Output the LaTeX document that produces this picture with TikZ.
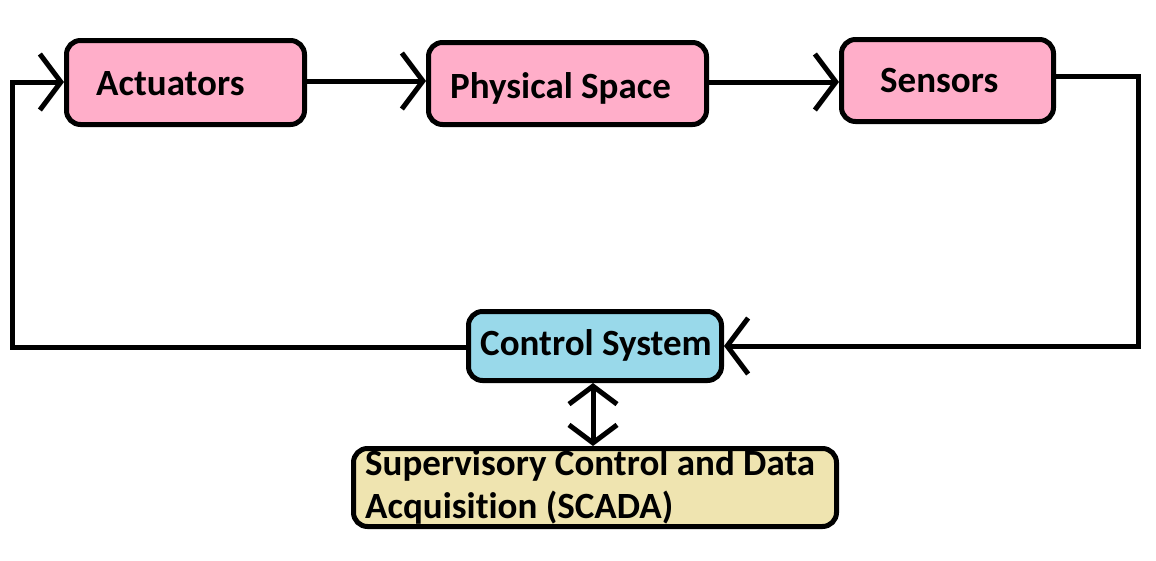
\documentclass[tikz,border=0pt]{standalone}
\usepackage{fontspec}
\setmainfont{Carlito}[Ligatures={NoCommon}]
\usetikzlibrary{arrows.meta}
\definecolor{pinkbox}{HTML}{FFAEC9}
\definecolor{bluebox}{HTML}{99D9EA}
\definecolor{beigebox}{HTML}{EFE4B0}
\tikzset{
  blk/.style={draw=black, line width=5pt, rounded corners=14pt, inner sep=0pt},
  lbl/.style={inner sep=0pt, anchor=base west, font=\fontsize{37}{43}\selectfont\bfseries},
  conn/.style={line width=5pt, line cap=round, line join=miter},
  barb/.tip={Straight Barb[length=21pt, width=56pt, line width=5pt]},
  barbs/.tip={Straight Barb[length=18pt, width=48pt, line width=5pt]}
}
\begin{document}
\begin{tikzpicture}[x=1pt, y=-1pt]
\useasboundingbox (0,0) rectangle (1156,560);
% boxes
\node[blk, fill=pinkbox, minimum width=238pt, minimum height=84pt] (act) at (185.5,82.5) {};
\node[blk, fill=pinkbox, minimum width=278pt, minimum height=82pt] (phys) at (567.5,83.5) {};
\node[blk, fill=pinkbox, minimum width=212pt, minimum height=82pt] (sens) at (947.5,80.5) {};
\node[blk, fill=bluebox, minimum width=253pt, minimum height=69pt] (ctrl) at (595,346) {};
\node[blk, fill=beigebox, minimum width=483pt, minimum height=78pt] (scada) at (595,487.5) {};
% labels
\node[lbl] (tact) at (96,95) {Actuators};
\node[lbl] (tphys) at (450,98) {Physical Space};
\node[lbl] (tsens) at (880,92) {Sensors};
\node[lbl] (tctrl) at (480,355) {Control System};
\node[lbl] (tsc1) at (365,475) {Supervisory Control and Data};
\node[lbl] (tsc2) at (365,518) {Acquisition (SCADA)};
% corner coordinates
\coordinate (lb) at (12,347);
\coordinate (lt) at (12,82);
\coordinate (rt) at (1138,76);
\coordinate (rb) at (1138,346);
% connectors
\draw[conn, -barb] (ctrl.west |- lb) -- (lb) -- (lt) -- (lt -| act.west);
\draw[conn, -barb] ([yshift=1.5pt]act.east) -- ([yshift=1.5pt]act.east -| phys.west);
\draw[conn, -barb] (phys.east |- 0,82) -- (sens.west |- 0,82);
\draw[conn, -barb] (sens.east |- rt) -- (rt) -- (rb) -- (rb -| ctrl.east);
\draw[conn, barbs-barbs] ([xshift=-2pt]ctrl.south) -- ([xshift=-2pt]scada.north);
\end{tikzpicture}
\end{document}
